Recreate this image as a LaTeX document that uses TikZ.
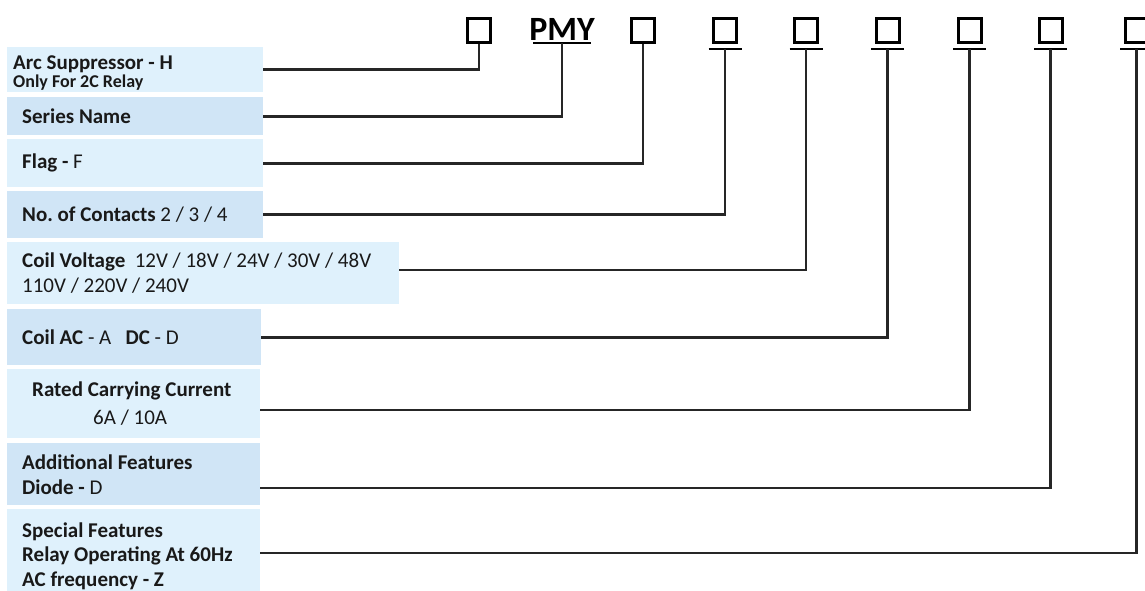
\documentclass[tikz,border=0pt]{standalone}
\usepackage{fontspec}
\setmainfont{Carlito}
\frenchspacing
\definecolor{paleblue}{RGB}{223,241,252}
\definecolor{softblue}{RGB}{208,229,246}
\definecolor{wire}{RGB}{38,38,38}

\begin{document}
\begin{tikzpicture}
            [x=1pt, y=-1pt,
             box/.style={anchor=north west, inner xsep=15pt, inner ysep=0pt, align=flush left, text=black!90, font=\fontsize{21}{25}\selectfont},
             pale/.style={box, fill=paleblue},
             soft/.style={box, fill=softblue},
             digit/.style={draw=black, line width=3pt, minimum width=23pt, minimum height=24pt, inner sep=0pt},
             link/.style={draw=wire, line width=2.8pt},
             bar/.style={draw=black, line width=2.6pt}]

            \clip (0,0) rectangle (1145,590);
            \fill[white] (0,0) rectangle (1145,590);

            % order code
            \node[digit] (c1) at (479,30.5) {};
            \node[font=\fontsize{34}{34}\selectfont\bfseries, anchor=base, inner sep=0pt] (c2) at (562,40) {PMY};
            \foreach \i/\x in {3/643,4/725,5/806,6/887.5,7/969.5,8/1050.5,9/1136.5}
              \node[digit] (c\i) at (\x,30.5) {};

            \draw[bar] ([shift={(-29,3)}]c2.base) -- ++(58,0);
            \foreach \i in {4,...,9}
              \draw[bar] ([shift={(-16.5,5)}]c\i.south) -- ++(33,0);

            % fields
            \node[pale, inner xsep=6pt, text width=244pt, minimum height=45pt, font=\fontsize{21}{18}\selectfont] (arc) at (7,47)
              {\rule{0pt}{21pt}\textbf{Arc Suppressor - H}\\{\fontsize{18}{18}\selectfont\textbf{Only For 2C Relay}}};
            \node[soft, text width=226pt, minimum height=38pt] (series) at (7,97) {\textbf{Series Name}};
            \node[pale, text width=226pt, minimum height=48pt] (flag) at (7,139) {\textbf{Flag -} F};
            \node[soft, text width=226pt, minimum height=47pt] (contacts) at (7,191) {\textbf{No. of Contacts} 2 / 3 / 4};
            \node[pale, text width=362pt, minimum height=62pt] (voltage) at (7,242)
              {\textbf{Coil Voltage}\ \ 12V / 18V / 24V / 30V / 48V\\110V / 220V / 240V};
            \node[soft, text width=224pt, minimum height=56pt] (coil) at (7,309) {\textbf{Coil AC} - A\ \ \ \textbf{DC} - D};
            \node[pale, inner xsep=25pt, text width=203pt, minimum height=69pt] (current) at (7,369)
              {\textbf{Rated Carrying Current}\\[3pt]\hspace*{61pt}6A / 10A};
            \node[soft, text width=223pt, minimum height=62pt] (features) at (7,443)
              {\textbf{Additional Features}\\\textbf{Diode -} D};
            \node[pale, text width=223pt, minimum height=94pt, font=\fontsize{21}{24.5}\selectfont] (special) at (7,509)
              {\textbf{Special Features}\\\textbf{Relay Operating At 60Hz}\\\textbf{AC frequency - Z}};

            \draw[link] (c1.south) |- (arc.east);
            \draw[link] ([yshift=-3pt]c2.base) |- (series.east);
            \draw[link] (c3.south) |- (flag.east);
            \draw[link] ([yshift=-5pt]c4.south) |- (contacts.east);
            \draw[link] ([yshift=-5pt]c5.south) |- (voltage.east |- 0,270);
            \draw[link] ([yshift=-5pt]c6.south) |- (coil.east);
            \draw[link] ([yshift=-5pt]c7.south) |- (current.east |- 0,410);
            \draw[link] ([yshift=-5pt]c8.south) |- (features.east |- 0,488);
            \draw[link] ([yshift=-5pt]c9.south) |- (special.east |- 0,553);
          \end{tikzpicture}
\end{document}
